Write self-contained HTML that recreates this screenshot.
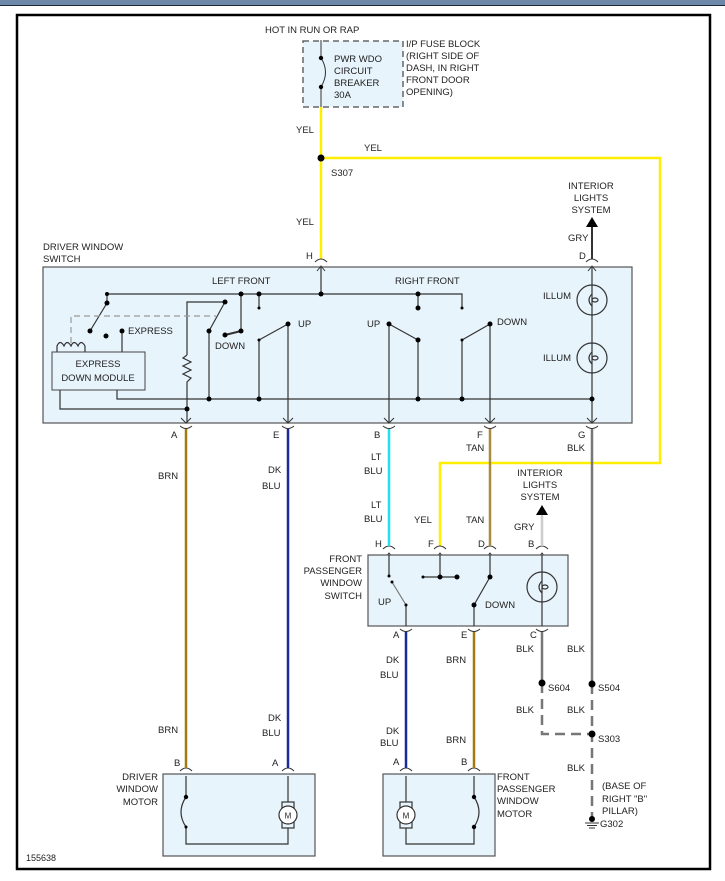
<!DOCTYPE html>
<html><head><meta charset="utf-8"><style>
html,body{margin:0;padding:0;background:#fff;}
svg{display:block;}
text{font-family:"Liberation Sans",Arial,sans-serif;font-size:9.5px;fill:#222;}
</style></head><body>
<svg width="725" height="881" viewBox="0 0 725 881" xmlns="http://www.w3.org/2000/svg">
<rect x="0" y="0" width="725" height="5" fill="#6d88a8"/>
<line x1="0" y1="5.5" x2="725" y2="5.5" stroke="#1a2a3a" stroke-width="1"/>
<rect x="17" y="15" width="693" height="854" fill="#fff" stroke="#000" stroke-width="2.5"/>

<!-- fuse block -->
<rect x="303" y="41" width="100" height="66" fill="#e8f4fc" stroke="#666" stroke-width="1.5" stroke-dasharray="6,4"/>
<line x1="321" y1="40" x2="321" y2="58" stroke="#333"/>
<line x1="321" y1="87" x2="321" y2="107" stroke="#333"/>
<path d="M321 58 Q330 72 321 87" fill="none" stroke="#333"/>
<circle cx="321" cy="58" r="2.2" fill="#000"/><circle cx="321" cy="87" r="2.2" fill="#000"/>
<text x="265" y="33">HOT IN RUN OR RAP</text>
<text x="334" y="62">PWR WDO</text><text x="334" y="74">CIRCUIT</text><text x="334" y="86">BREAKER</text><text x="334" y="98">30A</text>
<text x="406" y="47">I/P FUSE BLOCK</text><text x="406" y="59">(RIGHT SIDE OF</text><text x="406" y="71">DASH, IN RIGHT</text><text x="406" y="83">FRONT DOOR</text><text x="406" y="95">OPENING)</text>

<!-- yellow -->
<g stroke="#ffee00" stroke-width="2.5" fill="none">
<line x1="321" y1="107" x2="321" y2="259"/>
<polyline points="321,158 660,158 660,463 440,463 440,546"/>
</g>
<circle cx="321" cy="158" r="3.5" fill="#000"/>
<text x="296" y="133">YEL</text><text x="364" y="151">YEL</text><text x="296" y="225">YEL</text><text x="331" y="176">S307</text>

<!-- driver switch box -->
<rect x="43" y="267" width="589" height="156" fill="#e8f4fc" stroke="#555" stroke-width="1.2"/>
<text x="43" y="250">DRIVER WINDOW</text><text x="43" y="262">SWITCH</text>
<text x="306" y="259">H</text><text x="579" y="259">D</text>
<text x="212" y="284">LEFT FRONT</text><text x="395" y="284">RIGHT FRONT</text>
<g stroke="#333" stroke-width="1.2" fill="none">
<polyline points="107,303 107,294 462,294 462,308"/>
<line x1="321" y1="267" x2="321" y2="294"/>
<line x1="259" y1="294" x2="259" y2="308"/>
<polyline points="241,294 241,331"/>
<line x1="241" y1="331" x2="225" y2="335" stroke-width="2"/>
<line x1="107" y1="303" x2="90" y2="331"/>
<line x1="122" y1="331" x2="122" y2="352"/>
<polyline points="187,355 187,302 225,302"/>
<line x1="225" y1="302" x2="209" y2="331"/>
<line x1="209" y1="331" x2="209" y2="399"/>
<polyline points="187,355 183,358 191,362 183,366 191,370 183,374 191,378 187,382 187,409"/>
<polyline points="60,390 60,409 187,409"/>
<polyline points="117,390 117,399 592,399"/>
<line x1="187" y1="409" x2="187" y2="423"/>
<line x1="288" y1="324" x2="259" y2="340"/>
<line x1="259" y1="340" x2="259" y2="399"/>
<line x1="288" y1="324" x2="288" y2="423"/>
<line x1="389" y1="324" x2="418" y2="340"/>
<line x1="418" y1="294" x2="418" y2="308"/>
<line x1="418" y1="340" x2="418" y2="399"/>
<line x1="389" y1="324" x2="389" y2="423"/>
<line x1="490" y1="324" x2="462" y2="340"/>
<line x1="462" y1="340" x2="462" y2="399"/>
<line x1="490" y1="324" x2="490" y2="423"/>
<line x1="592" y1="267" x2="592" y2="423"/>
<circle cx="592" cy="300" r="15"/><circle cx="592" cy="358" r="15"/>
<path d="M592 294 Q586 300 592 306 M592 352 Q586 358 592 364"/>
<ellipse cx="595" cy="300" rx="3" ry="2"/><ellipse cx="595" cy="358" rx="3" ry="2"/>
<path d="M57 352 V346 Q60 339 64 346 Q67 339 71 346 Q74 339 78 346 Q81 339 85 346 V352"/>
</g>
<polyline points="71,343 71,316 216,316" fill="none" stroke="#999" stroke-width="1.2" stroke-dasharray="6,4"/>
<rect x="52" y="352" width="93" height="38" fill="#e8f4fc" stroke="#444"/>
<text x="98" y="367" text-anchor="middle">EXPRESS</text><text x="98" y="381" text-anchor="middle">DOWN MODULE</text>
<text x="128" y="334">EXPRESS</text><text x="215" y="349">DOWN</text>
<text x="298" y="327">UP</text><text x="367" y="327">UP</text><text x="497" y="325">DOWN</text>
<text x="543" y="299">ILLUM</text><text x="543" y="361">ILLUM</text>
<g fill="#000">
<circle cx="107" cy="294" r="2"/><circle cx="241" cy="294" r="2.5"/><circle cx="259" cy="294" r="2.5"/><circle cx="321" cy="294" r="2.5"/><circle cx="418" cy="294" r="2.5"/>
<circle cx="259" cy="308" r="1.5"/><circle cx="462" cy="308" r="1.5"/><circle cx="418" cy="308" r="2.5"/>
<circle cx="107" cy="303" r="2.5"/><circle cx="90" cy="331" r="2.5"/><circle cx="106" cy="336" r="2.5"/><circle cx="122" cy="331" r="2.5"/>
<circle cx="225" cy="302" r="2.5"/><circle cx="209" cy="331" r="2.5"/><circle cx="241" cy="331" r="2.5"/><circle cx="225" cy="335" r="2.5"/>
<circle cx="288" cy="324" r="2.5"/><circle cx="259" cy="340" r="1.5"/><circle cx="389" cy="324" r="2.5"/><circle cx="418" cy="340" r="2.5"/>
<circle cx="490" cy="324" r="2.5"/><circle cx="462" cy="340" r="1.5"/>
<circle cx="209" cy="399" r="2.5"/><circle cx="259" cy="399" r="2.5"/><circle cx="418" cy="399" r="2.5"/><circle cx="462" cy="399" r="2.5"/><circle cx="592" cy="399" r="2.5"/><circle cx="187" cy="409" r="2.5"/>
</g>

<!-- interior lights top -->
<line x1="592" y1="225" x2="592" y2="259" stroke="#333" stroke-width="2"/>
<polygon points="586,227 598,227 592,217" fill="#000"/>
<text x="591" y="189" text-anchor="middle">INTERIOR</text><text x="591" y="201" text-anchor="middle">LIGHTS</text><text x="591" y="213" text-anchor="middle">SYSTEM</text>
<text x="568" y="241">GRY</text>

<!-- connectors symbols -->
<g fill="none" stroke="#333" stroke-width="1">
<path d="M315 262 Q321 256 327 262 M317 271 L321 266 L325 271"/>
<path d="M586 262 Q592 256 598 262 M588 271 L592 266 L596 271"/>
<path d="M181 418 L186 423 L191 418 M180 426 Q186 431 192 426"/>
<path d="M283 418 L288 423 L293 418 M282 426 Q288 431 294 426"/>
<path d="M384 418 L389 423 L394 418 M383 426 Q389 431 395 426"/>
<path d="M485 418 L490 423 L495 418 M484 426 Q490 431 496 426"/>
<path d="M587 418 L592 423 L597 418 M586 426 Q592 431 598 426"/>
<path d="M383 549 Q389 543 395 549 M385 558 L389 553 L393 558"/>
<path d="M434 549 Q440 543 446 549 M436 558 L440 553 L444 558"/>
<path d="M484 549 Q490 543 496 549 M486 558 L490 553 L494 558"/>
<path d="M536 549 Q542 543 548 549 M538 558 L542 553 L546 558"/>
<path d="M401 621 L406 626 L411 621 M400 629 Q406 634 412 629"/>
<path d="M469 621 L474 626 L479 621 M468 629 Q474 634 480 629"/>
<path d="M537 621 L542 626 L547 621 M536 629 Q542 634 548 629"/>
<path d="M180 771 Q186 765 192 771 M182 780 L186 775 L190 780"/>
<path d="M282 771 Q288 765 294 771 M284 780 L288 775 L292 780"/>
<path d="M400 771 Q406 765 412 771 M402 780 L406 775 L410 780"/>
<path d="M468 771 Q474 765 480 771 M470 780 L474 775 L478 780"/>
</g>
<text x="171" y="438">A</text><text x="273" y="438">E</text><text x="374" y="438">B</text><text x="477" y="438">F</text><text x="578" y="438">G</text>
<text x="466" y="451">TAN</text><text x="567" y="451">BLK</text>

<!-- wires -->
<line x1="186" y1="429" x2="186" y2="768" stroke="#a07a10" stroke-width="2.5"/>
<line x1="288" y1="429" x2="288" y2="768" stroke="#1a2a9a" stroke-width="2.5"/>
<line x1="389" y1="429" x2="389" y2="546" stroke="#22e0f0" stroke-width="2.5"/>
<line x1="490" y1="429" x2="490" y2="546" stroke="#a88a40" stroke-width="2.5"/>
<line x1="592" y1="429" x2="592" y2="684" stroke="#777" stroke-width="2.5"/>
<line x1="592" y1="684" x2="592" y2="818" stroke="#777" stroke-width="2.5" stroke-dasharray="10,6"/>
<text x="158" y="479">BRN</text><text x="158" y="733">BRN</text>
<text x="268" y="473">DK</text><text x="262" y="489">BLU</text><text x="268" y="721">DK</text><text x="262" y="736">BLU</text>
<text x="371" y="460">LT</text><text x="364" y="474">BLU</text><text x="371" y="508">LT</text><text x="364" y="522">BLU</text>
<text x="466" y="523">TAN</text><text x="414" y="523">YEL</text>
<text x="174" y="766">B</text><text x="272" y="766">A</text>

<!-- passenger switch -->
<text x="540" y="476" text-anchor="middle">INTERIOR</text><text x="540" y="488" text-anchor="middle">LIGHTS</text><text x="540" y="500" text-anchor="middle">SYSTEM</text>
<line x1="542" y1="514" x2="542" y2="546" stroke="#ccc" stroke-width="2.5"/>
<polygon points="536,515 548,515 542,505" fill="#000"/>
<text x="514" y="530">GRY</text>
<text x="375" y="547">H</text><text x="428" y="547">F</text><text x="478" y="547">D</text><text x="528" y="547">B</text>
<rect x="368" y="555" width="200" height="71" fill="#e8f4fc" stroke="#555" stroke-width="1.2"/>
<text x="362" y="562" text-anchor="end">FRONT</text><text x="362" y="574" text-anchor="end">PASSENGER</text><text x="362" y="586" text-anchor="end">WINDOW</text><text x="362" y="599" text-anchor="end">SWITCH</text>
<g stroke="#333" stroke-width="1.2" fill="none">
<line x1="389" y1="555" x2="389" y2="576"/>
<line x1="392" y1="582" x2="406" y2="605" stroke="#777"/>
<line x1="406" y1="605" x2="406" y2="626"/>
<line x1="440" y1="555" x2="440" y2="577"/>
<line x1="423" y1="577" x2="457" y2="577"/>
<line x1="490" y1="555" x2="490" y2="577"/>
<line x1="490" y1="577" x2="474" y2="605"/>
<line x1="474" y1="605" x2="474" y2="626"/>
<line x1="542" y1="555" x2="542" y2="626"/>
<circle cx="542" cy="587" r="15"/>
<path d="M542 581 Q536 587 542 593"/><ellipse cx="545" cy="587" rx="3" ry="2"/>
</g>
<g fill="#000">
<circle cx="389" cy="576" r="1.5"/><circle cx="392" cy="582" r="1.5"/><circle cx="406" cy="605" r="1.5"/>
<circle cx="440" cy="577" r="2.5"/><circle cx="423" cy="577" r="1.5"/><circle cx="457" cy="577" r="2.5"/>
<circle cx="490" cy="577" r="2.5"/><circle cx="474" cy="605" r="2.5"/>
</g>
<text x="378" y="605">UP</text><text x="485" y="608">DOWN</text>
<text x="393" y="638">A</text><text x="461" y="638">E</text><text x="530" y="638">C</text>

<line x1="406" y1="632" x2="406" y2="768" stroke="#1a2a9a" stroke-width="2.5"/>
<line x1="474" y1="632" x2="474" y2="768" stroke="#a07a10" stroke-width="2.5"/>
<line x1="542" y1="632" x2="542" y2="683" stroke="#777" stroke-width="2.5"/>
<polyline points="542,683 542,734 592,734" fill="none" stroke="#777" stroke-width="2.5" stroke-dasharray="10,6"/>
<circle cx="542" cy="683" r="3.5" fill="#000"/><circle cx="592" cy="684" r="3.5" fill="#000"/><circle cx="592" cy="734" r="3.5" fill="#000"/>
<text x="516" y="652">BLK</text><text x="567" y="652">BLK</text>
<text x="386" y="663">DK</text><text x="380" y="678">BLU</text><text x="446" y="663">BRN</text>
<text x="548" y="691">S604</text><text x="598" y="691">S504</text>
<text x="516" y="713">BLK</text><text x="567" y="713">BLK</text>
<text x="598" y="742">S303</text>
<text x="386" y="734">DK</text><text x="380" y="746">BLU</text><text x="446" y="743">BRN</text>
<text x="567" y="771">BLK</text>
<text x="393" y="765">A</text><text x="461" y="765">B</text>
<text x="602" y="789">(BASE OF</text><text x="602" y="802">RIGHT "B"</text><text x="602" y="814">PILLAR)</text>
<circle cx="592" cy="819" r="3" fill="#000"/>
<g stroke="#333"><line x1="585" y1="823" x2="599" y2="823"/><line x1="587" y1="825.5" x2="597" y2="825.5"/><line x1="589" y1="828" x2="595" y2="828"/></g>
<text x="600" y="827">G302</text>

<!-- driver motor -->
<rect x="163" y="774" width="152" height="82" fill="#e8f4fc" stroke="#555" stroke-width="1.2"/>
<text x="158" y="780" text-anchor="end">DRIVER</text><text x="158" y="792" text-anchor="end">WINDOW</text><text x="158" y="805" text-anchor="end">MOTOR</text>
<g stroke="#333" stroke-width="1.2" fill="none">
<line x1="186" y1="776" x2="186" y2="797"/>
<path d="M186 797 Q176 812 186 827"/>
<polyline points="186,827 186,844 288,844 288,826"/>
<line x1="288" y1="776" x2="288" y2="804"/>
<rect x="282" y="802" width="12" height="26" fill="#e8f4fc"/>
<circle cx="288" cy="815" r="9" fill="#fff"/>
</g>
<circle cx="186" cy="797" r="2.2" fill="#000"/><circle cx="186" cy="827" r="1.5" fill="#000"/>
<text x="288" y="818.5" text-anchor="middle" style="font-size:8px">M</text>

<!-- passenger motor -->
<rect x="383" y="774" width="112" height="82" fill="#e8f4fc" stroke="#555" stroke-width="1.2"/>
<text x="497" y="780">FRONT</text><text x="497" y="792">PASSENGER</text><text x="497" y="804">WINDOW</text><text x="497" y="817">MOTOR</text>
<g stroke="#333" stroke-width="1.2" fill="none">
<line x1="474" y1="776" x2="474" y2="797"/>
<path d="M474 797 Q484 812 474 827"/>
<polyline points="474,827 474,844 406,844 406,826"/>
<line x1="406" y1="776" x2="406" y2="804"/>
<rect x="400" y="802" width="12" height="26" fill="#e8f4fc"/>
<circle cx="406" cy="815" r="9" fill="#fff"/>
</g>
<circle cx="474" cy="797" r="2.2" fill="#000"/><circle cx="474" cy="827" r="2.2" fill="#000"/>
<text x="406" y="818.5" text-anchor="middle" style="font-size:8px">M</text>

<text x="26" y="861" style="font-size:9px">155638</text>
</svg>
</body></html>
